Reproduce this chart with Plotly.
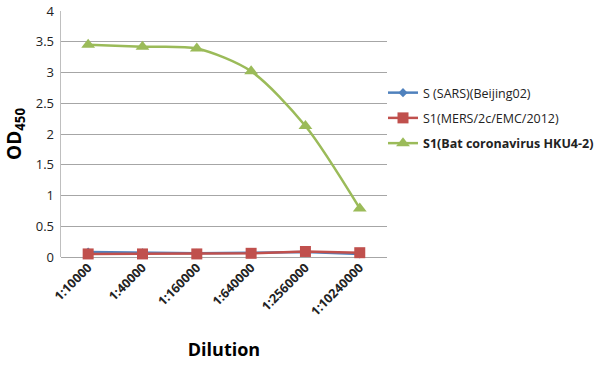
import plotly.graph_objects as go

dilutions = ["1:10000", "1:40000", "1:160000", "1:640000", "1:2560000", "1:10240000"]
sars = [0.08, 0.07, 0.06, 0.07, 0.08, 0.05]
mers = [0.05, 0.05, 0.05, 0.06, 0.09, 0.07]
hku4 = [3.45, 3.42, 3.39, 3.02, 2.13, 0.79]

fig = go.Figure()
fig.add_trace(go.Scatter(x=dilutions, y=sars, name="S (SARS)(Beijing02)", mode="lines+markers",
                         line=dict(color="#4F81BD", width=2.5),
                         marker=dict(symbol="diamond", size=7, color="#4F81BD"),
                         legendgroup="a", cliponaxis=False))
fig.add_trace(go.Scatter(x=dilutions, y=mers, name="S1(MERS/2c/EMC/2012)", mode="lines+markers",
                         line=dict(color="#C0504D", width=2.5),
                         marker=dict(symbol="square", size=11, color="#C0504D"),
                         legendgroup="b", cliponaxis=False))
fig.add_trace(go.Scatter(x=dilutions, y=hku4, name="<b>S1(Bat coronavirus HKU4-2)</b>", mode="lines+markers",
                         line=dict(color="#9BBB59", width=2.5, shape="spline", smoothing=0.8),
                         marker=dict(symbol="triangle-up", size=12, color="#9BBB59"),
                         legendgroup="c", cliponaxis=False))

fig.update_layout(
    width=599, height=366,
    margin=dict(l=61, r=0, t=11, b=109),
    paper_bgcolor="white", plot_bgcolor="white",
    font=dict(family="Open Sans, Liberation Sans, sans-serif", size=12, color="#000000"),
    showlegend=True,
    legend=dict(x=0.6136, y=0.565, xanchor="left", yanchor="middle",
                font=dict(size=12.5, color="#222"), tracegroupgap=6,
                itemwidth=30, bgcolor="rgba(0,0,0,0)"),
    xaxis=dict(type="category", range=[-0.5, 5.5], tickangle=-45, automargin=False,
               domain=[0, 0.6208],
               showgrid=False, showline=False, ticks="",
               tickfont=dict(size=12.5, weight="bold", color="#222"),
               title=dict(text="<b>Dilution</b>", font=dict(size=18), standoff=24)),
    yaxis=dict(range=[0, 4], dtick=0.5, showgrid=True, gridcolor="#A6A6A6", gridwidth=1,
               zeroline=True, zerolinecolor="#A6A6A6", zerolinewidth=1, automargin=False,
               showline=True, linecolor="#BFBFBF", linewidth=1, ticks="",
               ticklabeloverflow="allow",
               tickfont=dict(size=13, color="#222"), ticksuffix=" ",
               title=dict(text="<b>OD<sub>450</sub></b>", font=dict(size=19), standoff=9)),
)

fig.write_html("out.html", config={"displayModeBar": False},
               post_script="document.body.style.margin='0';")
